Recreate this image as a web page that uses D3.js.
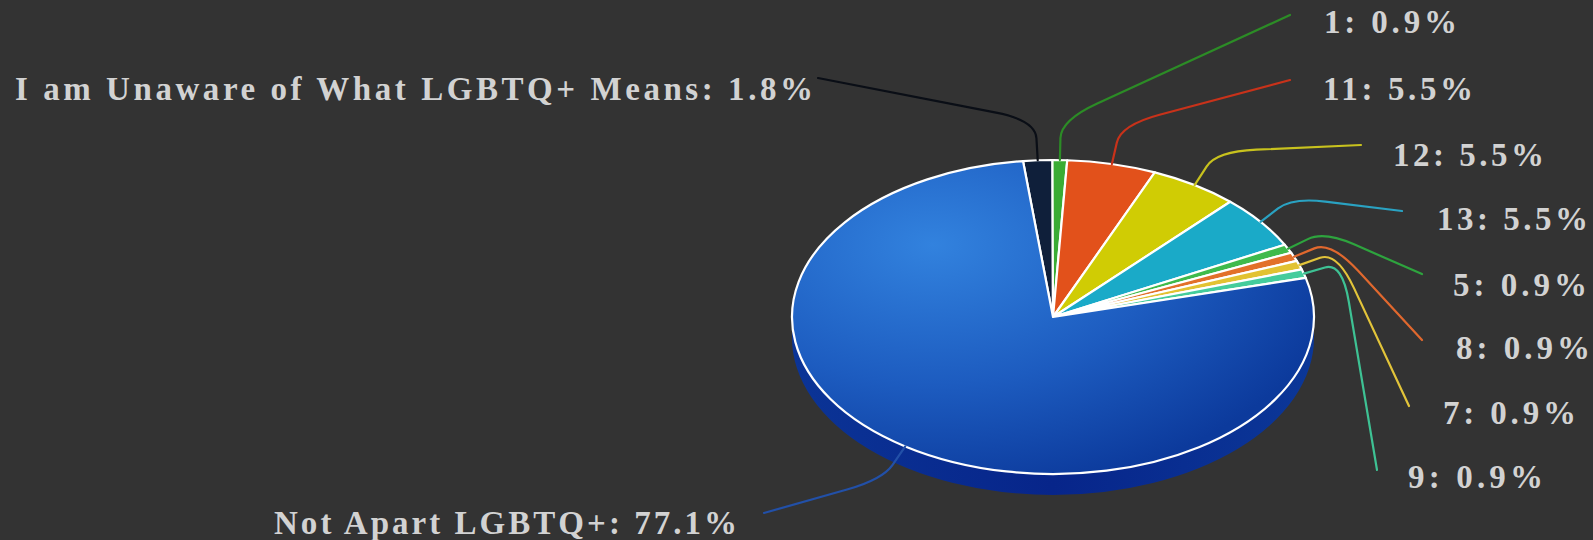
<!DOCTYPE html>
<html>
<head>
<meta charset="utf-8">
<script src="https://cdn.jsdelivr.net/npm/d3@7"></script>
<style>
    html, body { margin: 0; padding: 0; background: #333333; overflow: hidden; }
    text { font-family: "Liberation Serif", "Times New Roman", serif; font-weight: bold; }
</style>
</head>
<body>
<section></section>
<script>
// Data (percent of respondents)
const categories = ["I am Unaware of What LGBTQ+ Means", "1", "11", "12", "13", "5", "8", "7", "9", "Not Apart LGBTQ+"];
const percents = [1.8, 0.9, 5.5, 5.5, 5.5, 0.9, 0.9, 0.9, 0.9, 77.1];

// Styles
const sliceColors = ["#0f1f3a", "#3aac34", "#e2511b", "#d0cc04", "#1aaac8", "#3fba4c", "#e2702a", "#e2c232", "#44cc9c", "url(#blueGrad)"];
const lineColors = ["#0a0e16", "#2c8c26", "#c8321a", "#c8c21e", "#2aa2c2", "#2ea43e", "#e0682e", "#e2c43a", "#3ec294", "#2250a8"];

// Label layout: [x, baseline, anchor, text width, line end x, line end y]
const labelLayout = [
    [813, 100, "end", 798, 818, 78],
    [1324, 33, "start", 133, 1290, 15],
    [1323, 100, "start", 150, 1290, 80],
    [1393, 166, "start", 151, 1361, 145],
    [1437, 230, "start", 151, 1402, 211],
    [1453, 296, "start", 134, 1422, 274],
    [1456, 359, "start", 134, 1422, 340],
    [1443, 424, "start", 133, 1409, 406],
    [1408, 488, "start", 135, 1377, 470],
    [737, 534, "end", 463, 764, 513]
];

const WIDTH = 1593;
const HEIGHT = 540;

// Pie geometry (tilted disc)
const CX = 1053;
const CY = 317;
const RX = 261;
const RY = 157;
const DEPTH = 21;
const START = -6.6 * Math.PI / 180;

const svg = d3.select("section")
    .append("svg")
    .attr("width", WIDTH)
    .attr("height", HEIGHT);

const defs = svg.append("defs");

const blue = defs.append("radialGradient")
    .attr("id", "blueGrad")
    .attr("gradientUnits", "userSpaceOnUse")
    .attr("cx", -120).attr("cy", -120).attr("r", 420);
blue.append("stop").attr("offset", "0%").attr("stop-color", "#3282de");
blue.append("stop").attr("offset", "55%").attr("stop-color", "#1d5cc0");
blue.append("stop").attr("offset", "100%").attr("stop-color", "#0c3a9c");

const side = defs.append("linearGradient")
    .attr("id", "sideGrad")
    .attr("x1", "0%").attr("x2", "100%");
side.append("stop").attr("offset", "0%").attr("stop-color", "#0b3496");
side.append("stop").attr("offset", "50%").attr("stop-color", "#07258a");
side.append("stop").attr("offset", "100%").attr("stop-color", "#0b3798");

const pie = d3.pie()
    .sort(null)
    .value(d => d)
    .startAngle(START)
    .endAngle(START + 2 * Math.PI);

const arcs = pie(percents);

// point on the tilted ellipse, angle clockwise from 12 o'clock
const ellPoint = (a, extra) => [
    CX + (RX + extra) * Math.sin(a),
    CY - (RY + extra) * Math.cos(a)
];

// Side wall of the disc (front half only)
const sideD = "M" + (CX + RX) + "," + CY +
    " L" + (CX + RX) + "," + (CY + DEPTH) +
    " A" + RX + "," + RY + " 0 0 1 " + (CX - RX) + "," + (CY + DEPTH) +
    " L" + (CX - RX) + "," + CY +
    " A" + RX + "," + RY + " 0 0 0 " + (CX + RX) + "," + CY + " Z";

svg.append("path")
    .attr("d", sideD)
    .attr("fill", "url(#sideGrad)");

// Top face: circle arcs squashed into the ellipse
const arcGen = d3.arc()
    .innerRadius(0)
    .outerRadius(RX);

svg.append("g")
    .attr("transform", "translate(" + CX + "," + CY + ") scale(1," + (RY / RX) + ")")
    .selectAll("path")
    .data(arcs)
    .enter()
    .append("path")
    .attr("d", arcGen)
    .attr("fill", (d, i) => sliceColors[i])
    .attr("stroke", "#ffffff")
    .attr("stroke-width", 2.2)
    .attr("stroke-linejoin", "round")
    .attr("vector-effect", "non-scaling-stroke");

// Leader lines: radial stub, rounded bend, then out to the label
const leader = (d, i) => {
    const mid = (d.startAngle + d.endAngle) / 2;
    const p0 = ellPoint(mid, 0);
    const p1 = ellPoint(mid, 40);
    const p2 = [labelLayout[i][4], labelLayout[i][5]];
    const len2 = Math.hypot(p2[0] - p1[0], p2[1] - p1[1]);
    const t = Math.min(0.3, 40 / len2);
    const a = [p1[0] - 0.45 * (p1[0] - p0[0]), p1[1] - 0.45 * (p1[1] - p0[1])];
    const b = [p1[0] + t * (p2[0] - p1[0]), p1[1] + t * (p2[1] - p1[1])];
    const p = d3.path();
    p.moveTo(p0[0], p0[1]);
    p.lineTo(a[0], a[1]);
    p.quadraticCurveTo(p1[0], p1[1], b[0], b[1]);
    p.lineTo(p2[0], p2[1]);
    return p.toString();
};

svg.append("g")
    .selectAll("path")
    .data(arcs)
    .enter()
    .append("path")
    .attr("d", leader)
    .attr("fill", "none")
    .attr("stroke", (d, i) => lineColors[i])
    .attr("stroke-width", 2.2)
    .attr("stroke-linecap", "round");

// Labels are spaced out to the width they take in the original
svg.append("g")
    .selectAll("text")
    .data(arcs)
    .enter()
    .append("text")
    .attr("x", (d, i) => labelLayout[i][0])
    .attr("y", (d, i) => labelLayout[i][1])
    .attr("text-anchor", (d, i) => labelLayout[i][2])
    .attr("textLength", (d, i) => labelLayout[i][3])
    .attr("lengthAdjust", "spacing")
    .attr("font-size", 33)
    .attr("fill", "#d2d2d2")
    .text((d, i) => categories[i] + ": " + percents[i].toFixed(1) + "%");
</script>
</body>
</html>
